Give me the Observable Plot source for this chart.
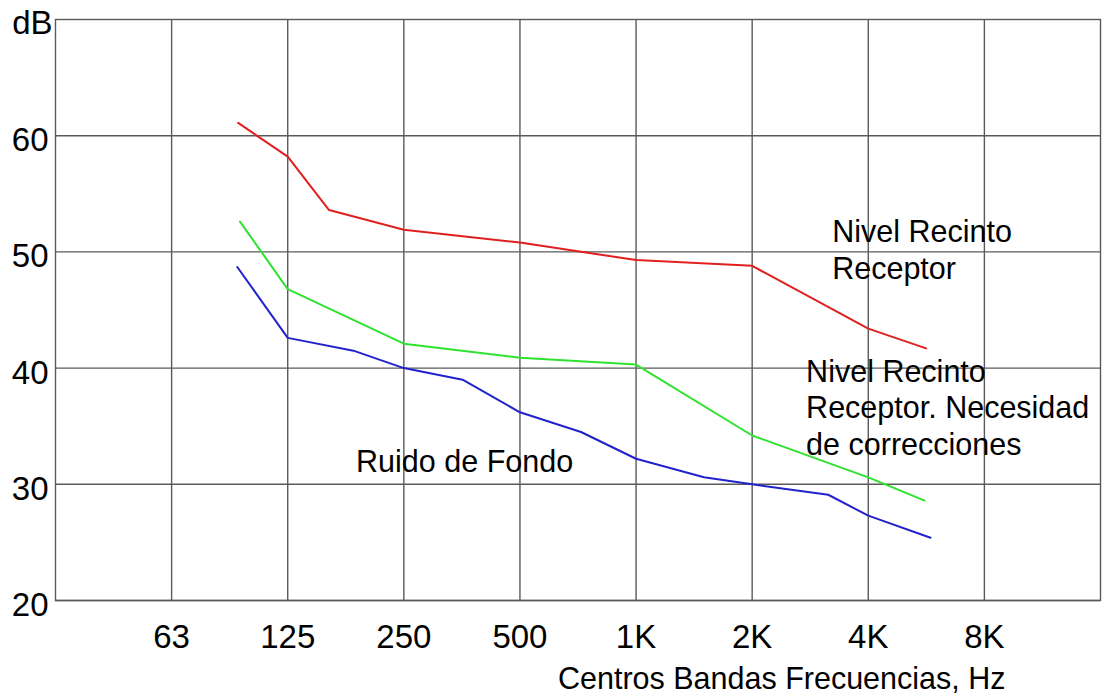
<!DOCTYPE html>
<html>
<head>
<meta charset="utf-8">
<script src="https://cdn.jsdelivr.net/npm/d3@7"></script>
<script src="https://cdn.jsdelivr.net/npm/@observablehq/plot@0.6"></script>
<style>
  html, body { margin: 0; padding: 0; background: #fff; }
  #chart { width: 1102px; height: 697px; }
</style>
</head>
<body>
<div id="chart"></div>
<script>
// Octave band ticks (positions) and their printed labels
const tickValues = [62.5, 125, 250, 500, 1000, 2000, 4000, 8000];
const tickLabels = ["63", "125", "250", "500", "1K", "2K", "4K", "8K"];
const yTicks = [20, 30, 40, 50, 60];

// Nivel Recinto Receptor (red)
const redFreq = [93, 125, 160, 250, 500, 1000, 2000, 4000, 5650];
const redDb   = [61.1, 58.2, 53.6, 51.9, 50.8, 49.3, 48.8, 43.4, 41.7];

// Nivel Recinto Receptor. Necesidad de correcciones (green)
const greenFreq = [94, 125, 250, 500, 1000, 2000, 4000, 5600];
const greenDb   = [52.6, 46.8, 42.1, 40.9, 40.3, 34.2, 30.6, 28.6];

// Ruido de Fondo (blue)
const blueFreq = [92.5, 125, 185, 250, 355, 500, 720, 1000, 1500, 2000, 3150, 4000, 5800];
const blueDb   = [48.7, 42.6, 41.5, 40.0, 39.0, 36.2, 34.5, 32.2, 30.6, 30.0, 29.1, 27.3, 25.4];

// Curve annotations
const labelText = ["Nivel Recinto\nReceptor", "Nivel Recinto\nReceptor. Necesidad\nde correcciones", "Ruido de Fondo"];
const labelFreq = [3225, 2760, 188];
const labelDb   = [53.1, 41.1, 33.3];

const xLabel = "Centros Bandas Frecuencias, Hz";
const yLabel = "dB";

const toRows = (fs, ds) => fs.map((f, i) => ({f, db: ds[i]}));
const red = toRows(redFreq, redDb);
const green = toRows(greenFreq, greenDb);
const blue = toRows(blueFreq, blueDb);
const labels = labelText.map((t, i) => ({t, f: labelFreq[i], db: labelDb[i]}));
const xTicks = tickValues.map((v, i) => ({v, label: tickLabels[i]}));

const font = "'Liberation Sans', Arial, Helvetica, sans-serif";
const gridColor = "#5a5a5a";

const chart = Plot.plot({
  width: 1102,
  height: 697,
  marginLeft: 55,
  marginRight: 2,
  marginTop: 19,
  marginBottom: 97,
  style: {fontFamily: font, color: "#000", background: "#fff", overflow: "visible"},
  x: {type: "log", domain: [31.25, 16000], axis: null},
  y: {domain: [20, 70]},
  marks: [
    Plot.gridX(tickValues, {stroke: gridColor, strokeOpacity: 1, strokeWidth: 1.4}),
    Plot.gridY(yTicks, {stroke: gridColor, strokeOpacity: 1, strokeWidth: 1.4}),
    Plot.frame({stroke: gridColor, strokeWidth: 1.4}),
    Plot.text(xTicks, {x: "v", text: "label", frameAnchor: "bottom", lineAnchor: "top", dy: 24, fontSize: 33, fill: "#000"}),
    Plot.axisY({
      ticks: yTicks, tickSize: 0, tickPadding: 7, fontSize: 33, dy: 5, label: null
    }),
    Plot.text([yLabel], {text: d => d, frameAnchor: "top-left", textAnchor: "end", lineAnchor: "bottom", dx: -3, dy: 14, fontSize: 33}),
    Plot.text([xLabel], {text: d => d, frameAnchor: "bottom-right", textAnchor: "end", lineAnchor: "bottom", dx: -95, dy: 88, fontSize: 30.5}),
    Plot.line(red, {x: "f", y: "db", stroke: "#e02020", strokeWidth: 2}),
    Plot.line(green, {x: "f", y: "db", stroke: "#2fe22f", strokeWidth: 2}),
    Plot.line(blue, {x: "f", y: "db", stroke: "#2222cc", strokeWidth: 2}),
    Plot.text(labels, {x: "f", y: "db", text: "t", textAnchor: "start", lineAnchor: "top", fontSize: 30.5, lineHeight: 1.21, fill: "#000"})
  ]
});
document.getElementById("chart").appendChild(chart);
</script>
</body>
</html>
